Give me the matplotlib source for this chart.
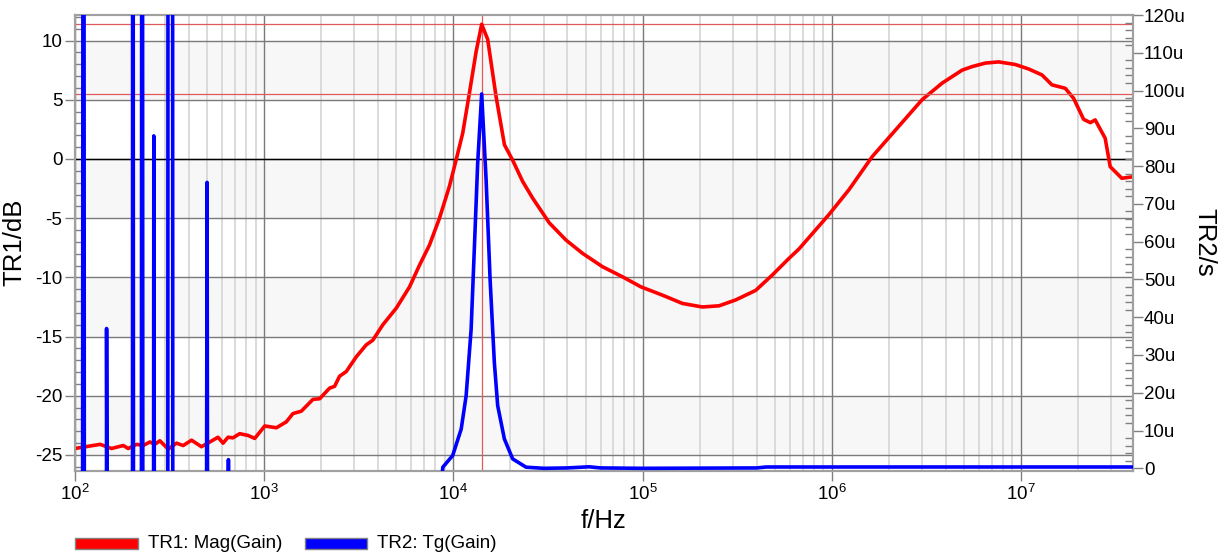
import matplotlib
matplotlib.use('Agg')
import matplotlib.pyplot as plt
from matplotlib.patches import Rectangle
from matplotlib.ticker import LogLocator, FixedLocator, MultipleLocator, NullFormatter

plt.rcParams['font.family'] = ['Liberation Sans', 'DejaVu Sans']
plt.rcParams['mathtext.fontset'] = 'custom'
plt.rcParams['mathtext.rm'] = 'Liberation Sans'
plt.rcParams['axes.unicode_minus'] = False

# TR1: magnitude of gain (dB)
red_f = [100, 136, 156, 180, 191, 212, 229, 249, 264, 281, 311, 344, 373, 413, 466,
         516, 570, 606, 644, 684, 742, 822, 891, 1007, 1160, 1309, 1419, 1571, 1810,
         1963, 2217, 2355, 2501, 2715, 3067, 3460, 3750, 4236, 4986, 5861, 6621, 7470,
         8438, 9525, 10330, 11190, 12140, 13180, 14100, 15170, 16790, 18600, 20550,
         23220, 26200, 32110, 39350, 48120, 61350, 78220, 97900, 127200, 162200,
         206800, 253400, 310500, 395500, 484200, 592700, 669900, 964000, 1.23e6,
         1.633e6, 2.169e6, 2.994e6, 3.818e6, 4.871e6, 5.5e6, 6.47e6, 7.6e6, 9.31e6,
         1.096e7, 1.288e7, 1.455e7, 1.711e7, 1.892e7, 2.138e7, 2.318e7, 2.462e7,
         2.78e7, 2.955e7, 3.404e7, 3.9e7]
red_db = [-24.45, -24.1, -24.45, -24.2, -24.45, -24.1, -24.2, -23.9, -24.1, -23.8, -24.5,
          -24.0, -24.2, -23.75, -24.3, -23.9, -23.5, -24.0, -23.5, -23.55, -23.2, -23.35,
          -23.6, -22.55, -22.7, -22.2, -21.5, -21.3, -20.3, -20.25, -19.35, -19.2, -18.35,
          -17.95, -16.7, -15.7, -15.3, -14.0, -12.6, -10.8, -8.96, -7.27, -5.0, -2.3,
          -0.08, 2.17, 5.55, 9.07, 11.38, 10.1, 5.3, 1.2, -0.1, -1.9, -3.3, -5.4, -6.85,
          -7.97, -9.1, -9.95, -10.8, -11.5, -12.2, -12.5, -12.4, -11.9, -11.1, -9.8,
          -8.4, -7.6, -4.7, -2.6, 0.2, 2.45, 5.0, 6.4, 7.5, 7.8, 8.1, 8.2, 7.98, 7.6,
          7.1, 6.26, 5.97, 5.13, 3.35, 3.07, 3.3, 1.75, -0.65, -1.63, -1.5]

# TR2: group delay (microseconds), off-scale values clipped by the axes
blue_f = [100, 108.9, 110.9, 112.9, 145.7, 146.9, 153, 201, 202, 205, 223, 226.5, 229.6,
          258, 261, 267.6, 308.5, 311, 327, 330, 485.3, 499, 511, 641, 647, 653,
          8000, 8790, 9910, 10990, 11670, 12400, 12910, 13430, 14100, 14880, 15620,
          16450, 17130, 18580, 20550, 24190, 30000, 40000, 52000, 60000, 100000,
          400000, 450000, 1e6, 1e7, 3.9e7]
blue_us = [-300, -300, 400, -300, -300, 37, -300, -300, 400, -300, -300, 400, -300,
           -300, 88, -300, -300, 400, 400, -300, -300, 75.7, -300, -300, 2.3, -300,
           -20, 0.3, 3.4, 10.4, 19.2, 36.8, 58.8, 80.8, 99.1, 76.4, 50.0,
           28.0, 16.6, 7.8, 2.5, 0.3, 0.0, 0.1, 0.4, 0.1, 0.0,
           0.1, 0.35, 0.35, 0.35, 0.35]

cursor_f = 14100
cursor_db = 11.38
cursor_us = 99.1

db_ticks = [-25, -20, -15, -10, -5, 0, 5, 10]
us_ticks = [0, 10, 20, 30, 40, 50, 60, 70, 80, 90, 100, 110, 120]
x_ticks = [1e2, 1e3, 1e4, 1e5, 1e6, 1e7]
x_labels = ['$10^2$', '$10^3$', '$10^4$', '$10^5$', '$10^6$', '$10^7$']

fig = plt.figure(figsize=(12.25, 5.58), dpi=100)
ax1 = fig.add_axes([0.0612, 0.1568, 0.8637, 0.8163])
ax2 = ax1.twinx()

ax1.set_xscale('log')
ax1.set_xlim(100, 3.9e7)
ax1.set_ylim(-26.31, 12.16)
ax2.set_ylim(-0.58, 120)

# alternating background bands
for lo in [5, -5, -15, -25]:
    ax1.axhspan(lo, lo + 5, color='#f7f7f7', zorder=0, lw=0)

ax1.set_axisbelow(True)
ax1.xaxis.set_major_locator(FixedLocator(x_ticks))
ax1.xaxis.set_minor_locator(LogLocator(base=10, subs=range(2, 10), numticks=20))
ax1.xaxis.set_minor_formatter(NullFormatter())
ax1.set_xticklabels(x_labels)
ax1.grid(which='major', axis='both', color='#7a7a7a', lw=1.0)
ax1.grid(which='minor', axis='x', color='#d8d8d8', lw=1.3)
ax1.axhline(0, color='black', lw=1.0, zorder=1)

ax1.set_yticks(db_ticks)
ax1.set_yticklabels([str(v) for v in db_ticks])
ax1.yaxis.set_minor_locator(MultipleLocator(1))
ax2.set_yticks(us_ticks)
ax2.set_yticklabels(['0'] + ['%du' % v for v in us_ticks[1:]])
ax2.yaxis.set_minor_locator(MultipleLocator(2))

ax1.tick_params(axis='both', which='major', direction='out', length=7, width=1,
                color='#808080', labelsize=13.5, pad=2)
ax1.tick_params(axis='y', which='minor', direction='in', length=5, width=1, color='#808080')
ax1.tick_params(axis='x', which='minor', length=0)
ax2.tick_params(axis='y', which='major', direction='out', length=7, width=1,
                color='#808080', labelsize=13.5, pad=1)
ax2.tick_params(axis='y', which='minor', direction='in', length=6, width=1, color='#808080')

for ax in (ax1, ax2):
    for s in ax.spines.values():
        s.set_color('#a0a0a0')
        s.set_linewidth(1.5)

# cursor lines
ax1.axvline(cursor_f, color='#e05a5a', lw=0.9, zorder=2)
ax1.axhline(cursor_db, color='#e05a5a', lw=0.9, zorder=2)
ax2.axhline(cursor_us, color='#e05a5a', lw=0.9, zorder=1)

ax1.plot(red_f, red_db, color='#ff0000', lw=2.6, zorder=3)
ax2.plot(blue_f, blue_us, color='#0000ff', lw=2.6, zorder=3)

ax1.set_ylabel('TR1/dB', fontsize=18.5, labelpad=6)
ax2.set_ylabel('TR2/s', fontsize=18.5, rotation=-90, labelpad=22)
ax1.set_xlabel('f/Hz', fontsize=18.5, labelpad=4)

# legend drawn at the bottom
fig.patches.append(Rectangle((0.0612, 0.0165), 0.0514, 0.019, transform=fig.transFigure,
                             facecolor='#ff0000', edgecolor='#808080', lw=1))
fig.text(0.1208, 0.026, 'TR1: Mag(Gain)', fontsize=13.5, va='center')
fig.patches.append(Rectangle((0.249, 0.0165), 0.0506, 0.019, transform=fig.transFigure,
                             facecolor='#0000ff', edgecolor='#808080', lw=1))
fig.text(0.3078, 0.026, 'TR2: Tg(Gain)', fontsize=13.5, va='center')

fig.savefig('out.png', dpi=100)
